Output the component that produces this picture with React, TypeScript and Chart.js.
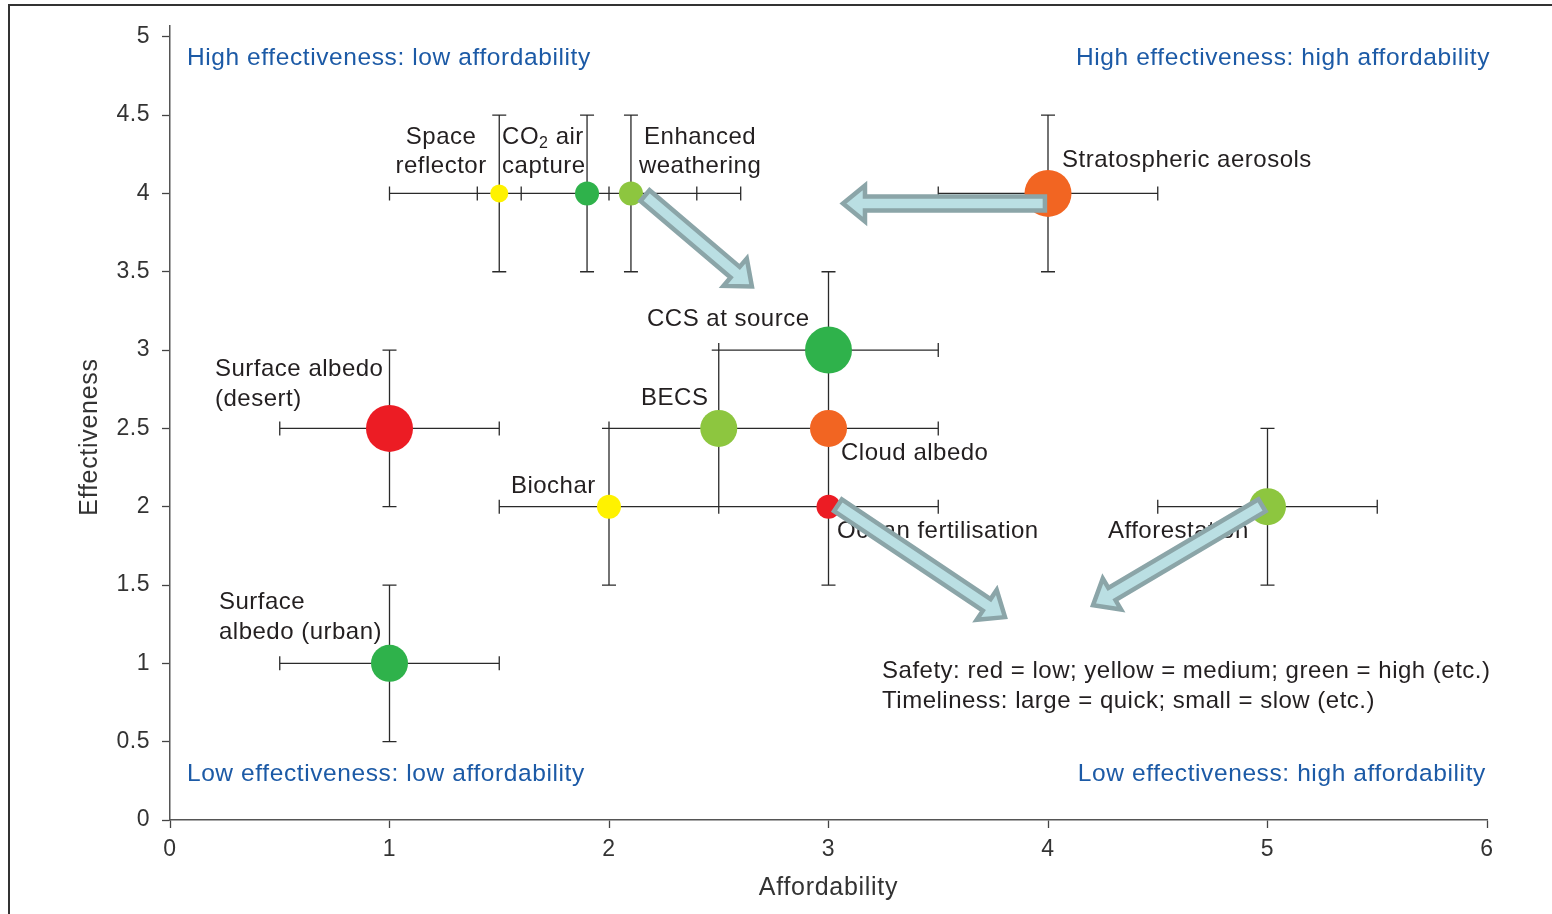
import React, { useEffect, useRef } from 'react';
import Chart from 'chart.js/auto';

// ---------------- data ----------------
const methods = [
  'Space reflector',
  'CO2 air capture',
  'Enhanced weathering',
  'Stratospheric aerosols',
  'CCS at source',
  'Surface albedo (desert)',
  'BECS',
  'Cloud albedo',
  'Biochar',
  'Ocean fertilisation',
  'Afforestation',
  'Surface albedo (urban)',
];
const affordability = [1.5, 1.9, 2.1, 4, 3, 1, 2.5, 3, 2, 3, 5, 1];
const effectiveness = [4, 4, 4, 4, 3, 2.5, 2.5, 2.5, 2, 2, 2, 1];
const affordabilityError = [0.5, 0.5, 0.5, 0.5, 0.5, 0.5, 0.5, 0.5, 0.5, 0.5, 0.5, 0.5];
const effectivenessError = [0.5, 0.5, 0.5, 0.5, 0.5, 0.5, 0.5, 0.5, 0.5, 0.5, 0.5, 0.5];
// safety: 1 = low (red) ... 5 = high (green)
const safety = [3, 5, 4, 2, 5, 1, 4, 2, 3, 1, 4, 5];
// timeliness: 1 = slow (small) ... 5 = quick (large)
const timeliness = [1, 2, 2, 5, 5, 5, 4, 4, 2, 2, 4, 4];

const xTickValues = [0, 1, 2, 3, 4, 5, 6];
const yTickValues = [0, 0.5, 1, 1.5, 2, 2.5, 3, 3.5, 4, 4.5, 5];
const xTitle = 'Affordability';
const yTitle = 'Effectiveness';

// arrows (in data units): [fromX, fromY, toX, toY]
const arrows = [
  [3.986, 3.935, 3.066, 3.935],
  [2.164, 3.986, 2.651, 3.406],
  [3.043, 2.009, 3.804, 1.295],
  [4.975, 2.009, 4.205, 1.371],
];

// text annotations (in data units)
const annotations = [
  { lines: ['Space', 'reflector'], x: 1.235, y: [4.356, 4.171], align: 'center' },
  { lines: ['CO2 air', 'capture'], x: 1.513, y: [4.356, 4.171], align: 'left' },
  { lines: ['Enhanced', 'weathering'], x: 2.415, y: [4.356, 4.171], align: 'center' },
  { lines: ['Stratospheric aerosols'], x: 4.064, y: [4.21], align: 'left' },
  { lines: ['CCS at source'], x: 2.173, y: [3.195], align: 'left' },
  { lines: ['Surface albedo', '(desert)'], x: 0.205, y: [2.876, 2.685], align: 'left' },
  { lines: ['BECS'], x: 2.146, y: [2.69], align: 'left' },
  { lines: ['Cloud albedo'], x: 3.057, y: [2.34], align: 'left' },
  { lines: ['Biochar'], x: 1.553, y: [2.13], align: 'left' },
  { lines: ['Ocean fertilisation'], x: 3.039, y: [1.843], align: 'left' },
  { lines: ['Afforestation'], x: 4.273, y: [1.843], align: 'left' },
  { lines: ['Surface', 'albedo (urban)'], x: 0.223, y: [1.39, 1.2], align: 'left' },
  {
    lines: ['Safety: red = low; yellow = medium; green = high (etc.)', 'Timeliness: large = quick; small = slow (etc.)'],
    x: 3.244, y: [0.95, 0.759], align: 'left',
  },
];
const quadrantLabels = [
  { text: 'High effectiveness: low affordability', x: 0.077, y: 4.866, align: 'left' },
  { text: 'High effectiveness: high affordability', x: 6.014, y: 4.866, align: 'right' },
  { text: 'Low effectiveness: low affordability', x: 0.077, y: 0.293, align: 'left' },
  { text: 'Low effectiveness: high affordability', x: 5.995, y: 0.293, align: 'right' },
];

// ---------------- styles ----------------
const FONT = "'Liberation Sans', Arial, sans-serif";
const SPACING = '0.5px';
const safetyColor: Record<number, string> = {
  1: '#EC1C24',
  2: '#F26522',
  3: '#FFF200',
  4: '#8DC63F',
  5: '#2FB24B',
};
const timelinessRadius: Record<number, number> = { 1: 9, 2: 12, 3: 15, 4: 18.5, 5: 23.5 };

const spacingPlugin = {
  id: 'spacing',
  beforeDraw(chart: any) {
    (chart.ctx as any).letterSpacing = SPACING;
  },
};

const errorBarPlugin = {
  id: 'errorBars',
  beforeDatasetsDraw(chart: any) {
    const { ctx, scales } = chart;
    const xs = scales.x;
    const ys = scales.y;
    const cap = 7;
    ctx.save();
    ctx.strokeStyle = '#2a2a2a';
    ctx.lineWidth = 1.3;
    ctx.beginPath();
    for (let i = 0; i < methods.length; i++) {
      const px = xs.getPixelForValue(affordability[i]);
      const py = ys.getPixelForValue(effectiveness[i]);
      const x0 = xs.getPixelForValue(affordability[i] - affordabilityError[i]);
      const x1 = xs.getPixelForValue(affordability[i] + affordabilityError[i]);
      const y0 = ys.getPixelForValue(effectiveness[i] - effectivenessError[i]);
      const y1 = ys.getPixelForValue(effectiveness[i] + effectivenessError[i]);
      ctx.moveTo(x0, py); ctx.lineTo(x1, py);
      ctx.moveTo(x0, py - cap); ctx.lineTo(x0, py + cap);
      ctx.moveTo(x1, py - cap); ctx.lineTo(x1, py + cap);
      ctx.moveTo(px, y0); ctx.lineTo(px, y1);
      ctx.moveTo(px - cap, y0); ctx.lineTo(px + cap, y0);
      ctx.moveTo(px - cap, y1); ctx.lineTo(px + cap, y1);
    }
    ctx.stroke();
    ctx.restore();
  },
};

function drawArrow(ctx: CanvasRenderingContext2D, sx: number, sy: number, ex: number, ey: number) {
  const dx = ex - sx;
  const dy = ey - sy;
  const len = Math.hypot(dx, dy);
  const ux = dx / len;
  const uy = dy / len;
  const nx = -uy;
  const ny = ux;
  const sw = 7;
  const hw = 18;
  const hl = 22;
  const bx = ex - ux * hl;
  const by = ey - uy * hl;
  ctx.beginPath();
  ctx.moveTo(sx + nx * sw, sy + ny * sw);
  ctx.lineTo(bx + nx * sw, by + ny * sw);
  ctx.lineTo(bx + nx * hw, by + ny * hw);
  ctx.lineTo(ex, ey);
  ctx.lineTo(bx - nx * hw, by - ny * hw);
  ctx.lineTo(bx - nx * sw, by - ny * sw);
  ctx.lineTo(sx - nx * sw, sy - ny * sw);
  ctx.closePath();
  ctx.fillStyle = '#BADFE3';
  ctx.fill();
  ctx.lineWidth = 4.5;
  ctx.lineJoin = 'miter';
  ctx.strokeStyle = '#8BA5A8';
  ctx.stroke();
}

const annotationPlugin = {
  id: 'annotations',
  afterDatasetsDraw(chart: any) {
    const { ctx, scales } = chart;
    const xs = scales.x;
    const ys = scales.y;
    ctx.save();
    ctx.letterSpacing = SPACING;
    ctx.textBaseline = 'middle';
    ctx.font = `24px ${FONT}`;
    ctx.fillStyle = '#231F20';
    for (const a of annotations) {
      const px = xs.getPixelForValue(a.x);
      a.lines.forEach((line, j) => {
        const py = ys.getPixelForValue(a.y[j]);
        if (line.startsWith('CO2')) {
          ctx.textAlign = 'left';
          ctx.font = `24px ${FONT}`;
          ctx.fillText('CO', px, py);
          const w1 = ctx.measureText('CO').width;
          ctx.font = `16px ${FONT}`;
          ctx.fillText('2', px + w1, py + 6);
          const w2 = ctx.measureText('2').width;
          ctx.font = `24px ${FONT}`;
          ctx.fillText(line.slice(3), px + w1 + w2, py);
        } else {
          ctx.textAlign = a.align as CanvasTextAlign;
          ctx.fillText(line, px, py);
        }
      });
    }
    ctx.fillStyle = '#1C5AA6';
    ctx.font = `24.5px ${FONT}`;
    ctx.letterSpacing = '0.6px';
    for (const q of quadrantLabels) {
      ctx.textAlign = q.align as CanvasTextAlign;
      ctx.fillText(q.text, xs.getPixelForValue(q.x), ys.getPixelForValue(q.y));
    }
    for (const ar of arrows) {
      drawArrow(
        ctx,
        xs.getPixelForValue(ar[0]), ys.getPixelForValue(ar[1]),
        xs.getPixelForValue(ar[2]), ys.getPixelForValue(ar[3]),
      );
    }
    ctx.restore();
  },
  afterDraw(chart: any) {
    const { ctx, chartArea } = chart;
    ctx.save();
    // axis titles
    ctx.letterSpacing = '0.7px';
    ctx.fillStyle = '#333';
    ctx.font = `25px ${FONT}`;
    ctx.textAlign = 'center';
    ctx.textBaseline = 'middle';
    ctx.fillText(xTitle, (chartArea.left + chartArea.right) / 2, 888);
    ctx.translate(90, 437);
    ctx.rotate(-Math.PI / 2);
    ctx.fillText(yTitle, 0, 0);
    ctx.setTransform(1, 0, 0, 1, 0, 0);
    // frame
    ctx.strokeStyle = '#333';
    ctx.lineWidth = 2;
    ctx.beginPath();
    ctx.moveTo(9, 914);
    ctx.lineTo(9, 5);
    ctx.lineTo(1552, 5);
    ctx.stroke();
    ctx.restore();
  },
};

export default function App() {
  const ref = useRef<HTMLCanvasElement>(null);
  useEffect(() => {
    if (!ref.current) return;
    const chart = new Chart(ref.current, {
      type: 'scatter',
      data: {
        datasets: [
          {
            label: 'Methods',
            data: methods.map((_, i) => ({ x: affordability[i], y: effectiveness[i] })),
            pointRadius: timeliness.map((t) => timelinessRadius[t]),
            pointHoverRadius: timeliness.map((t) => timelinessRadius[t]),
            backgroundColor: safety.map((s) => safetyColor[s]),
            borderWidth: 0,
          },
        ],
      },
      options: {
        animation: false,
        responsive: false,
        events: [],
        layout: { padding: { top: 25, right: 65, left: 0, bottom: 0 } },
        plugins: { legend: { display: false }, tooltip: { enabled: false } },
        scales: {
          x: {
            type: 'linear',
            min: 0,
            max: 6,
            afterFit: (s: any) => { s.height = 94; },
            afterBuildTicks: (s: any) => { s.ticks = xTickValues.map((v) => ({ value: v })); },
            grid: { drawOnChartArea: false, drawTicks: true, tickLength: 8, tickColor: '#444', tickWidth: 1.3 },
            border: { color: '#555', width: 1.5 },
            ticks: { color: '#333', font: { family: FONT, size: 23 }, padding: 8, callback: (v: any) => String(v) },
            title: { display: false },
          },
          y: {
            type: 'linear',
            min: 0,
            max: 5.07,
            afterFit: (s: any) => { s.width = 170; },
            afterBuildTicks: (s: any) => { s.ticks = yTickValues.map((v) => ({ value: v })); },
            grid: { drawOnChartArea: false, drawTicks: true, tickLength: 8, tickColor: '#444', tickWidth: 1.3 },
            border: { color: '#555', width: 1.5 },
            ticks: { color: '#333', font: { family: FONT, size: 23 }, padding: 12, callback: (v: any) => String(v) },
            title: { display: false },
          },
        },
      },
      plugins: [spacingPlugin, errorBarPlugin, annotationPlugin],
    });
    return () => chart.destroy();
  }, []);
  return (
    <div style={{ position: 'absolute', left: 0, top: 0, width: 1552, height: 914, background: '#fff' }}>
      <canvas ref={ref} width={1552} height={914} style={{ width: 1552, height: 914, display: 'block' }} />
    </div>
  );
}
